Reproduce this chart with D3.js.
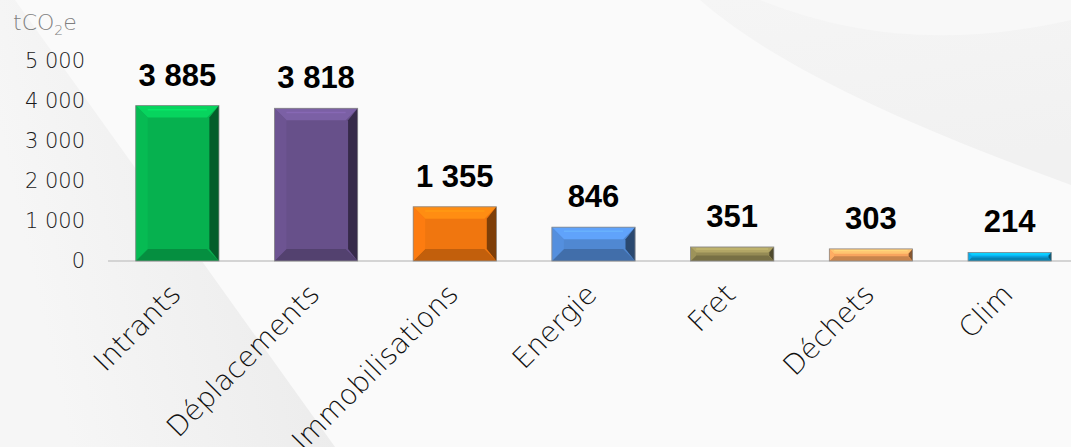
<!DOCTYPE html>
<html>
<head>
<meta charset="utf-8">
<script src="https://cdn.jsdelivr.net/npm/d3@7"></script>
<style>
  body { margin: 0; background: #f8f8f8; }
  svg { display: block; }
</style>
</head>
<body>
<svg id="chart"></svg>
<script>
var categories = ['Intrants', 'Déplacements', 'Immobilisations', 'Energie', 'Fret', 'Déchets', 'Clim'];
var values = [3885, 3818, 1355, 846, 351, 303, 214];
var barColors = ['#06b14f', '#67508a', '#f0760f', '#5088d2', '#958b55', '#f8a45e', '#08a2de'];
var yTicks = [0, 1000, 2000, 3000, 4000, 5000];

var width = 1071, height = 447;
var lightFont = "'DejaVu Sans', 'Lato', sans-serif";

var svg = d3.select('#chart')
  .attr('width', width)
  .attr('height', height);

// french number format : 3 885
var fr = d3.formatLocale({ decimal: ',', thousands: ' ', grouping: [3], currency: ['', ' €'] });
var fmt = fr.format(',d');

// background swooshes
var defs = svg.append('defs');
var g1 = defs.append('linearGradient').attr('id', 'leftShade')
  .attr('x1', '0').attr('y1', '0.3').attr('x2', '1').attr('y2', '0');
g1.append('stop').attr('offset', '0').attr('stop-color', '#f6f6f6');
g1.append('stop').attr('offset', '0.75').attr('stop-color', '#ececec');
g1.append('stop').attr('offset', '1').attr('stop-color', '#e6e6e6');

var g2 = defs.append('linearGradient').attr('id', 'rightShade')
  .attr('x1', '0').attr('y1', '0').attr('x2', '0.3').attr('y2', '1');
g2.append('stop').attr('offset', '0').attr('stop-color', '#f5f5f5');
g2.append('stop').attr('offset', '1').attr('stop-color', '#f1f1f1');

svg.append('rect').attr('width', width).attr('height', height).attr('fill', '#fafafa');
svg.append('path')
  .attr('d', 'M0,0 L15,0 L335,447 L0,447 Z')
  .attr('fill', 'url(#leftShade)');
svg.append('path')
  .attr('d', 'M700,0 C780,70 920,130 1071,185 L1071,0 Z')
  .attr('fill', 'url(#rightShade)');
svg.append('path')
  .attr('d', 'M760,0 C860,40 960,45 1071,20 L1071,0 Z')
  .attr('fill', '#f8f8f8');

// scales
var x = d3.scaleBand()
  .domain(categories)
  .range([108, 1079])
  .paddingInner(0.4)
  .paddingOuter(0.2);

var y = d3.scaleLinear()
  .domain([0, 5000])
  .range([261, 61]);

// y axis
var yAxis = svg.append('g')
  .attr('transform', 'translate(85,0)')
  .call(d3.axisLeft(y).tickValues(yTicks).tickSize(0).tickPadding(0).tickFormat(fmt));
yAxis.select('.domain').remove();
yAxis.selectAll('text')
  .attr('fill', '#1a1a1a')
  .style('font-family', lightFont)
  .style('font-weight', 200)
  .style('font-size', '21px');

// unit
svg.append('text')
  .attr('x', 13)
  .attr('y', 30)
  .attr('fill', '#7f7f7f')
  .style('font-family', lightFont)
  .style('font-weight', 200)
  .style('font-size', '22px')
  .text('tCO')
  .append('tspan').attr('dy', 5).style('font-size', '14px').text('2')
  .select(function() { return this.parentNode; })
  .append('tspan').attr('dy', -5).text('e');

// baseline
svg.append('line')
  .attr('x1', 108).attr('x2', width)
  .attr('y1', y(0)).attr('y2', y(0))
  .attr('stroke', '#d4d4d4')
  .attr('stroke-width', 2);

// bevelled bars
var bars = svg.append('g').selectAll('g').data(values).enter().append('g')
  .attr('transform', (d, i) => 'translate(' + x(categories[i]) + ',' + y(d) + ')');

bars.each(function(d, i) {
  var g = d3.select(this);
  var w = x.bandwidth();
  var h = y(0) - y(d);
  var b = Math.min(12, h / 2.5);
  var c = d3.color(barColors[i]);
  g.append('rect').attr('width', w).attr('height', h).attr('fill', c);
  // top
  g.append('path').attr('d', 'M0,0 L' + w + ',0 L' + (w - b) + ',' + b + ' L' + b + ',' + b + ' Z')
    .attr('fill', c.brighter(0.5));
  g.append('line').attr('x1', b).attr('x2', w - b).attr('y1', b * 0.35).attr('y2', b * 0.35)
    .attr('stroke', c.brighter(0.9)).attr('stroke-width', 1.5).attr('opacity', 0.6);
  // bottom
  g.append('path').attr('d', 'M0,' + h + ' L' + w + ',' + h + ' L' + (w - b) + ',' + (h - b) + ' L' + b + ',' + (h - b) + ' Z')
    .attr('fill', c.darker(0.6));
  // left
  g.append('path').attr('d', 'M0,0 L' + b + ',' + b + ' L' + b + ',' + (h - b) + ' L0,' + h + ' Z')
    .attr('fill', c.brighter(0.15));
  // right
  g.append('path').attr('d', 'M' + w + ',0 L' + (w - b * 0.8) + ',' + b + ' L' + (w - b * 0.8) + ',' + (h - b) + ' L' + w + ',' + h + ' Z')
    .attr('fill', c.darker(1.8));
  g.append('rect').attr('width', w).attr('height', h)
    .attr('fill', 'none').attr('stroke', '#8a8a8a').attr('stroke-width', 0.8);
});

// value labels
svg.append('g').selectAll('text').data(values).enter().append('text')
  .attr('x', (d, i) => x(categories[i]) + x.bandwidth() / 2)
  .attr('y', d => y(d) - 20)
  .attr('text-anchor', 'middle')
  .attr('fill', '#000')
  .style('font-family', "'Liberation Sans', Arial, sans-serif")
  .style('font-weight', 'bold')
  .style('font-size', '31px')
  .text(d => fmt(d));

// category labels
svg.append('g').selectAll('text').data(categories).enter().append('text')
  .attr('transform', d => 'translate(' + (x(d) + x.bandwidth() / 2 + 5) + ',296) rotate(-45)')
  .attr('text-anchor', 'end')
  .attr('fill', '#111')
  .style('font-family', lightFont)
  .style('font-weight', 200)
  .style('font-size', '28px')
  .text(d => d);
</script>
</body>
</html>
